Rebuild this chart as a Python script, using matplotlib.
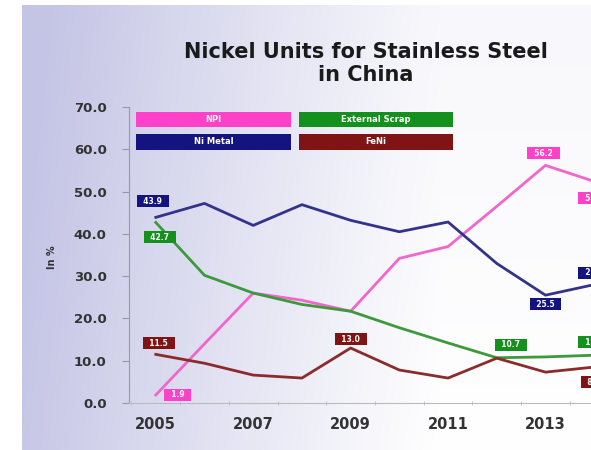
import numpy as np
import matplotlib
matplotlib.use("Agg")
import matplotlib.pyplot as plt
from matplotlib.patches import Rectangle

# data (% of nickel units)
years = [2005, 2006, 2007, 2008, 2009, 2010, 2011, 2012, 2013, 2014]
npi = [1.9, 14.0, 26.0, 24.3, 21.7, 34.2, 37.0, 46.5, 56.2, 52.4]
ni_metal = [43.9, 47.2, 42.0, 46.9, 43.2, 40.5, 42.8, 33.0, 25.5, 28.0]
ext_scrap = [42.7, 30.2, 26.0, 23.3, 21.7, 17.8, 14.2, 10.7, 10.9, 11.3]
feni = [11.5, 9.4, 6.6, 5.9, 13.0, 7.8, 5.9, 10.6, 7.3, 8.5]

series_names = ["NPI", "Ni Metal", "External Scrap", "FeNi"]
yticks = [0, 10, 20, 30, 40, 50, 60, 70]
xticks = [2005, 2007, 2009, 2011, 2013]

W, H = 591, 450
fig = plt.figure(figsize=(W / 100, H / 100), dpi=100)
fig.patch.set_facecolor("white")

# slide background: lavender on the left fading to white
bg = fig.add_axes([0, 0, 1, 1], zorder=0)
xx, yy = np.meshgrid(np.arange(W), np.arange(H))
w = np.clip(1 - (xx - 22) / 420.0, 0, 1) ** 1.1 * 0.95 + 0.12 * (1 - yy / H)
w = np.clip(w, 0, 1)
lav = np.array([0.77, 0.77, 0.90])
img = 1 - w[..., None] * (1 - lav)
img[(xx < 22) | (yy < 5)] = 1.0
bg.imshow(img, extent=[0, W, H, 0], aspect="auto", interpolation="bilinear")
bg.set_xlim(0, W)
bg.set_ylim(H, 0)
bg.axis("off")

def fx(px):
    return px / W

def fy(py):
    return 1 - py / H

# main axes, right part runs off the slide like in the screenshot
ax = fig.add_axes([fx(129), fy(403), (621 - 129) / W, (403 - 107) / H], zorder=2)
ax.patch.set_alpha(0)

colors = {
    "NPI": ("#f266cc", "#ff40c8"),
    "Ni Metal": ("#33338c", "#141480"),
    "External Scrap": ("#3c9a3c", "#14901c"),
    "FeNi": ("#8a2c2c", "#801414"),
}
data = {"NPI": npi, "Ni Metal": ni_metal, "External Scrap": ext_scrap, "FeNi": feni}

for name in series_names:
    ax.plot(years, data[name], color=colors[name][0], lw=2.0, solid_joinstyle="round", zorder=3)

ax.set_xlim(2004.45, 2014.55)
ax.set_ylim(0, 70)
ax.set_yticks(yticks)
ax.set_yticklabels([f"{v:.1f}" for v in yticks], fontsize=9.5, fontweight="bold", color="#333333")
ax.set_xticks(xticks)
ax.set_xticklabels([str(x) for x in xticks], fontsize=10.5, fontweight="bold", color="#333333")
ax.set_xticks(np.arange(2004.5, 2015, 1.0), minor=True)
ax.tick_params(axis="y", length=5, color="#999999", pad=11)
ax.tick_params(axis="x", which="major", length=0, pad=10)
ax.tick_params(axis="x", which="minor", length=3, direction="inout", color="#bbbbbb")
for s in ["top", "right"]:
    ax.spines[s].set_visible(False)
ax.spines["left"].set_color("#999999")
ax.spines["bottom"].set_color("#bbbbbb")

fig.text(fx(52), fy(257), "In %", rotation=90, ha="center", va="center",
         fontsize=7, fontweight="bold", color="#333333")

# title
fig.text(fx(366), fy(52), "Nickel Units for Stainless Steel", ha="center", va="center",
         fontsize=15, fontweight="bold", color="#1a1a1a")
fig.text(fx(366), fy(75), "in China", ha="center", va="center",
         fontsize=15, fontweight="bold", color="#1a1a1a")

# legend as coloured boxes
legend_boxes = {
    "NPI": (136, 112, 291, 127),
    "External Scrap": (299, 112, 453, 127),
    "Ni Metal": (136, 134, 291, 150),
    "FeNi": (299, 134, 453, 150),
}
for name, (x0, y0, x1, y1) in legend_boxes.items():
    fig.add_artist(Rectangle((fx(x0), fy(y1)), fx(x1 - x0), (y1 - y0) / H,
                             transform=fig.transFigure, facecolor=colors[name][1],
                             edgecolor="none", zorder=4))
    fig.text(fx((x0 + x1) / 2), fy((y0 + y1) / 2), name, ha="center", va="center",
             fontsize=6, fontweight="bold", color="white", zorder=5)

# data labels: (series, year, dx px, dy px)
labels = [
    ("Ni Metal", 2005, -3, 16),
    ("External Scrap", 2005, 4, -15),
    ("FeNi", 2005, 3, 11),
    ("NPI", 2005, 22, 0),
    ("FeNi", 2009, 0, 9),
    ("External Scrap", 2012, 14, 13),
    ("Ni Metal", 2013, 0, -9),
    ("NPI", 2013, -2, 12),
    ("NPI", 2014, 0, -17),
    ("Ni Metal", 2014, 0, 12),
    ("External Scrap", 2014, 0, 13),
    ("FeNi", 2014, 0, -15),
]
for name, yr, dx, dy in labels:
    v = data[name][years.index(yr)]
    ax.annotate(f"  {v:.1f}  ", (yr, v), xytext=(dx, dy), textcoords="offset pixels",
                ha="center", va="center", fontsize=5.5, fontweight="bold", color="white",
                bbox=dict(boxstyle="square,pad=0.2", fc=colors[name][1], ec="none"),
                zorder=6, annotation_clip=False)

fig.savefig("out.png", dpi=100)
